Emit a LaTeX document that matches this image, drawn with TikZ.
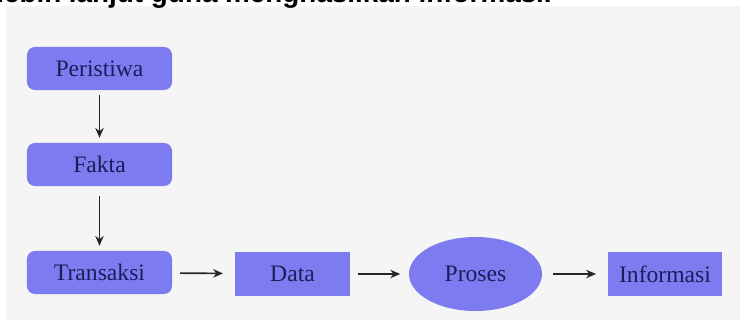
\documentclass[tikz,border=0pt]{standalone}
\usepackage{fontspec}
\setmainfont{Liberation Serif}
\newfontfamily\titlefont{Liberation Sans}
\usepackage{xcolor}
\usetikzlibrary{calc, shapes.geometric, positioning, arrows.meta}

\definecolor{boxblue}{RGB}{124,124,240}
\definecolor{textnavy}{RGB}{28,28,90}
\definecolor{panelgray}{RGB}{245,245,245}

\tikzset{
    langkah/.style={draw=none, fill=boxblue, rounded corners=0.2cm, text=textnavy,
        minimum width=3.625cm, minimum height=1.075cm, inner sep=0pt, outer sep=0pt,
        font=\fontsize{16.8}{20}\selectfont},
    kotak/.style={draw=none, fill=boxblue, text=textnavy,
        minimum width=2.875cm, minimum height=1.1cm, inner sep=0pt, outer sep=0pt,
        font=\fontsize{16.8}{20}\selectfont},
    olah/.style={ellipse, draw=none, fill=boxblue, text=textnavy,
        minimum width=3.325cm, minimum height=1.85cm, inner sep=0pt, outer sep=0pt,
        font=\fontsize{16.8}{20}\selectfont},
    alir/.style={->, line width=1.2pt, black!85}
}

\begin{document}
\begin{tikzpicture}[>={Stealth[length=7pt,width=6pt]}, x=0.025cm, y=-0.025cm]

    % =================================================================
    % 1. LATAR DAN BATAS GAMBAR
    % =================================================================
    \useasboundingbox (0,0) rectangle (740,335);
    \fill[white] (0,0) rectangle (740,335);
    \fill[panelgray] (6,6) rectangle (740,320);

    % Potongan kalimat di tepi atas
    \node[anchor=base west, inner sep=0pt] (judul) at (-4,2)
        {\titlefont\bfseries\fontsize{19.8}{22}\selectfont lebih lanjut guna menghasilkan informasi.};

    % =================================================================
    % 2. KOTAK-KOTAK TAHAPAN
    % =================================================================
    \node[langkah] (peristiwa) at (99.5,68.5)  {Peristiwa};
    \node[langkah] (fakta)     at (99.5,164.5) {Fakta};
    \node[langkah] (transaksi) at (99.5,272.5) {Transaksi};

    \node[kotak] (data) at (292.5,274) {Data};
    \node[olah] (proses) at (475.5,274) {Proses};
    \node[kotak, minimum width=2.85cm] (informasi) at (665,274) {Informasi};

    % =================================================================
    % 3. PANAH ALIRAN
    % =================================================================
    \draw[alir, shorten <=0.13cm, shorten >=0.13cm] (peristiwa) -- (fakta);
    \draw[alir, shorten <=0.25cm, shorten >=0.13cm] (fakta) -- (transaksi);

    \draw[alir, shorten <=0.2cm, shorten >=0.3cm] (transaksi) -- (data);
    \draw[alir, shorten <=0.2cm, shorten >=0.22cm] (data) -- (proses);
    \draw[alir, shorten <=0.27cm, shorten >=0.3cm] (proses) -- (informasi);

\end{tikzpicture}
\end{document}
